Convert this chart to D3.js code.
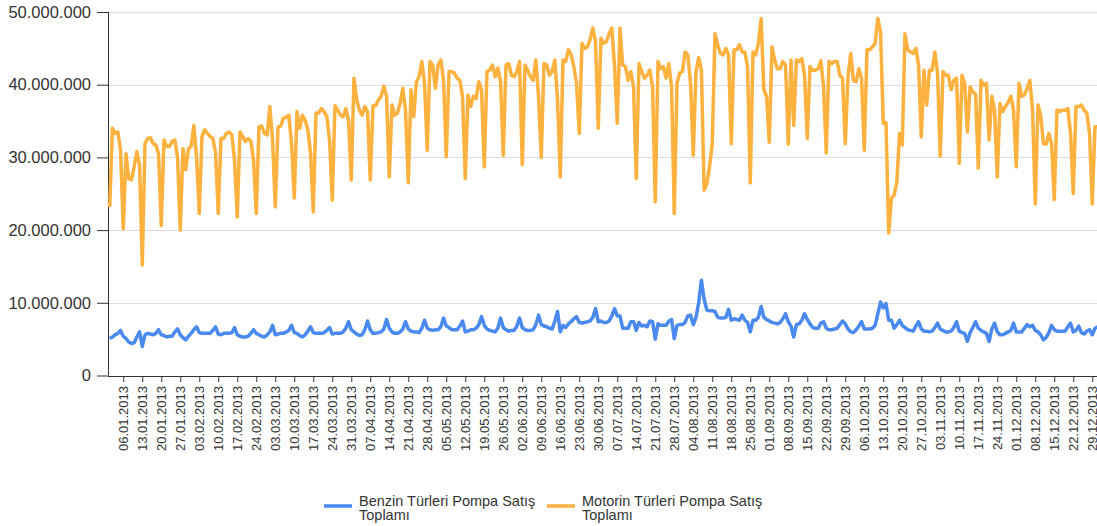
<!DOCTYPE html>
<html lang="tr">
<head>
<meta charset="UTF-8">
<title>Pompa Satış</title>
<script src="https://cdn.jsdelivr.net/npm/d3@7"></script>
<style>
    body { margin: 0; background: #fff; }
    svg { display: block; font-family: "Liberation Sans", Arial, sans-serif; }
</style>
</head>
<body>
<div id="chart"></div>
<script>
// günlük satışlar, milyon (1 Ocak 2013 - 31 Aralık 2013)
const startDate = new Date(2013, 0, 1);
const endDate = new Date(2013, 11, 31);
const unit = 1e6;

const benzin = [
    5.1, 5.3, 5.6, 5.8, 6.2,
    5.4, 5.1, 4.6, 4.4, 4.5, 5.3, 6.0,
    4.0, 5.6, 5.8, 5.7, 5.6, 5.8, 6.3,
    5.6, 5.5, 5.3, 5.4, 5.4, 6.0, 6.4,
    5.6, 5.2, 4.9, 5.4, 5.8, 6.3, 6.7,
    5.9, 5.8, 5.8, 5.8, 5.8, 6.2, 6.7,
    5.7, 5.6, 5.8, 5.8, 5.8, 5.9, 6.6,
    5.6, 5.4, 5.3, 5.3, 5.4, 5.8, 6.3,
    5.8, 5.6, 5.4, 5.3, 5.6, 6.0, 6.9,
    5.6, 5.7, 5.8, 5.8, 6.0, 6.2, 6.9,
    5.9, 5.8, 5.5, 5.3, 5.6, 6.1, 6.7,
    5.9, 5.8, 5.8, 5.8, 5.9, 6.2, 6.6,
    5.7, 5.8, 5.8, 5.8, 6.0, 6.5, 7.4,
    6.3, 6.0, 5.7, 5.5, 5.6, 6.3, 7.5,
    6.3, 5.8, 5.8, 5.9, 6.0, 6.4, 7.7,
    6.5, 6.0, 5.8, 5.8, 6.0, 6.4, 7.4,
    6.4, 6.1, 6.0, 6.0, 5.9, 6.5, 7.6,
    6.5, 6.3, 6.2, 6.3, 6.3, 6.7, 7.9,
    6.8, 6.6, 6.3, 6.3, 6.3, 6.8, 7.5,
    6.0, 6.1, 6.3, 6.3, 6.5, 7.0, 8.1,
    6.9, 6.4, 6.2, 6.1, 6.0, 6.5, 7.9,
    6.6, 6.3, 6.1, 6.2, 6.2, 6.8, 7.9,
    6.6, 6.3, 6.2, 6.2, 6.3, 7.0, 8.3,
    7.0, 6.8, 6.7, 6.5, 6.4, 7.5, 8.8,
    6.0, 6.9, 6.6, 7.1, 7.4, 7.8, 8.1,
    7.3, 7.2, 7.3, 7.4, 7.5, 8.0, 9.2,
    7.4, 7.5, 7.3, 7.3, 7.5, 8.2, 9.2,
    8.2, 8.2, 6.5, 6.5, 6.5, 7.4, 7.4,
    6.2, 7.3, 6.8, 6.9, 6.7, 7.5, 7.4,
    5.0, 7.1, 6.9, 6.9, 6.9, 7.5, 7.7,
    5.1, 6.9, 7.0, 7.0, 7.3, 8.2, 8.3,
    7.0, 8.0, 10.0, 13.1, 10.5, 9.0, 8.9,
    8.9, 8.8, 8.0, 7.9, 7.9, 8.0, 9.1,
    7.6, 7.8, 7.7, 7.6, 8.3, 7.6, 7.3,
    6.0, 7.6, 7.6, 8.0, 9.5, 8.0, 7.7,
    7.5, 7.3, 7.2, 7.1, 7.3, 7.8, 8.5,
    7.4, 6.8, 5.3, 7.0, 7.1, 7.6, 8.5,
    7.7, 7.1, 6.6, 6.5, 6.5, 7.2, 7.4,
    6.5, 6.3, 6.3, 6.4, 6.5, 7.0, 7.5,
    7.1, 6.4, 6.0, 5.9, 6.3, 6.8, 7.4,
    6.4, 6.4, 6.4, 6.5, 6.9, 8.5, 10.1,
    9.3, 9.9, 7.6, 7.6, 6.5, 7.0, 7.6,
    6.9, 6.6, 6.3, 6.2, 6.1, 6.8, 7.4,
    6.4, 6.1, 6.1, 6.0, 6.1, 6.6, 7.2,
    6.4, 6.2, 6.0, 6.0, 6.1, 6.6, 7.4,
    6.1, 5.9, 5.8, 4.7, 5.9, 6.6, 7.4,
    6.5, 6.2, 6.0, 5.8, 4.7, 6.4, 7.2,
    6.0, 5.6, 5.6, 5.8, 6.0, 6.2, 7.2,
    6.0, 6.0, 6.0, 6.5, 7.0, 6.7, 6.9,
    6.2, 6.0, 5.6, 4.9, 5.2, 5.9, 6.9,
    6.3, 6.1, 6.1, 6.1, 6.1, 6.7, 7.2,
    6.0, 6.2, 6.8, 5.9, 5.7, 6.1, 6.3,
    5.6, 6.5, 6.7
];

const motorin = [
    23.2, 34.0, 33.3, 33.5, 31.0,
    20.2, 30.5, 27.1, 26.9, 28.7, 30.8, 29.0,
    15.2, 31.9, 32.6, 32.7, 31.9, 31.7, 30.5,
    20.6, 32.4, 31.5, 31.5, 32.2, 32.4, 30.0,
    20.0, 31.2, 28.3, 31.2, 31.5, 34.4, 30.0,
    22.3, 32.9, 33.8, 33.3, 32.9, 32.6, 30.6,
    22.3, 32.6, 32.6, 33.3, 33.5, 33.1, 29.6,
    21.8, 33.5, 32.9, 32.2, 32.6, 32.2, 29.6,
    22.3, 34.2, 34.3, 33.3, 33.1, 37.0, 32.4,
    23.2, 34.2, 34.3, 35.4, 35.5, 35.8, 31.9,
    24.4, 36.3, 34.0, 35.8, 35.1, 33.8, 30.6,
    22.5, 36.1, 36.1, 36.7, 36.3, 35.6, 32.4,
    24.1, 37.1, 36.5, 35.8, 35.6, 36.7, 35.1,
    26.9, 40.9, 37.9, 36.5, 35.8, 37.0, 36.3,
    26.9, 37.1, 37.1, 37.9, 38.4, 39.8, 38.4,
    27.3, 37.2, 35.8, 36.1, 37.4, 39.5, 36.5,
    26.5, 39.3, 35.6, 40.4, 41.1, 43.2, 40.2,
    31.0, 43.2, 42.7, 39.5, 42.7, 43.4, 40.6,
    30.1, 41.8, 41.8, 41.6, 40.9, 40.6, 38.4,
    27.1, 38.6, 37.0, 38.4, 38.1, 40.4, 39.3,
    28.7, 41.8, 42.0, 42.7, 41.1, 42.3, 40.4,
    30.3, 42.7, 42.9, 41.3, 41.1, 41.8, 43.2,
    29.0, 42.7, 42.0, 41.1, 40.6, 43.4, 38.4,
    30.0, 42.9, 42.7, 41.3, 41.8, 43.4, 37.9,
    27.3, 43.4, 43.2, 44.8, 44.1, 42.5, 40.2,
    33.3, 45.7, 45.0, 45.2, 46.2, 47.8, 45.9,
    34.0, 46.4, 45.7, 45.9, 47.0, 47.8, 42.5,
    34.7, 47.8, 42.7, 42.5, 40.6, 41.8, 39.7,
    27.1, 42.9, 41.8, 40.9, 41.3, 42.0, 39.7,
    23.9, 43.2, 42.2, 42.5, 40.9, 42.9, 39.7,
    22.3, 40.2, 41.6, 41.8, 44.5, 44.1, 40.2,
    30.3, 41.8, 43.7, 42.0, 25.5, 26.4, 28.7,
    31.9, 47.0, 45.5, 44.3, 44.1, 45.0, 44.1,
    31.9, 44.8, 44.8, 45.5, 44.5, 44.5, 42.5,
    26.5, 44.5, 44.1, 45.7, 49.1, 39.3, 38.4,
    32.1, 45.2, 43.4, 42.2, 42.2, 43.2, 42.7,
    31.8, 43.4, 34.4, 43.4, 43.2, 43.6, 41.3,
    32.6, 42.5, 42.0, 42.0, 42.2, 43.3, 39.7,
    30.6, 43.2, 42.9, 43.2, 43.2, 41.3, 40.9,
    31.9, 41.1, 44.3, 40.6, 40.4, 42.2, 40.9,
    31.0, 44.8, 44.8, 45.2, 45.7, 49.1, 47.3,
    34.7, 34.8, 19.6, 24.4, 24.8, 26.6, 33.3,
    31.7, 47.0, 44.8, 44.5, 44.3, 45.0, 42.7,
    32.8, 42.0, 37.2, 42.0, 42.0, 44.5, 41.6,
    30.2, 41.8, 41.3, 41.3, 39.3, 40.6, 40.9,
    29.2, 41.3, 40.2, 33.5, 39.7, 39.0, 38.7,
    28.5, 40.6, 39.9, 40.2, 32.4, 38.4, 36.5,
    27.3, 37.4, 36.3, 37.0, 37.6, 38.4, 36.5,
    28.7, 40.2, 38.4, 38.6, 39.5, 40.6, 36.5,
    23.6, 37.2, 35.8, 31.9, 31.8, 33.3, 31.9,
    24.2, 36.5, 36.3, 36.5, 36.5, 36.7, 33.3,
    25.0, 37.0, 37.0, 37.2, 36.5, 36.1, 33.3,
    23.6, 34.2, 34.2
];

const yTicks = [0, 10e6, 20e6, 30e6, 40e6, 50e6];
const seriesNames = ["Benzin Türleri Pompa Satış Toplamı", "Motorin Türleri Pompa Satış Toplamı"];
const legendLines = [["Benzin Türleri Pompa Satış", "Toplamı"], ["Motorin Türleri Pompa Satış", "Toplamı"]];
const colors = ["#4a8af0", "#fdb13f"];

const width = 1097, height = 526;
const margin = { left: 108, right: 1097, top: 12, bottom: 375.5 };

const svg = d3.select("#chart").append("svg")
    .attr("width", width)
    .attr("height", height);

const days = d3.timeDay.range(startDate, d3.timeDay.offset(endDate, 1));

const x = d3.scaleTime()
    .domain([startDate, endDate])
    .range([109.7, 1097.7]);

const y = d3.scaleLinear()
    .domain([0, 50e6])
    .range([margin.bottom, margin.top]);

const trFormat = d3.formatLocale({ decimal: ",", thousands: ".", grouping: [3], currency: ["", ""] }).format(",");

// grid
svg.append("g")
    .selectAll("line")
    .data(yTicks.filter(d => d > 0))
    .join("line")
    .attr("x1", margin.left)
    .attr("x2", margin.right)
    .attr("y1", d => Math.round(y(d)) + 0.5)
    .attr("y2", d => Math.round(y(d)) + 0.5)
    .attr("stroke", "#dcdcdc")
    .attr("stroke-width", 1);

// y axis
const yAxis = svg.append("g")
    .attr("transform", `translate(${margin.left},0)`)
    .call(d3.axisLeft(y).tickValues(yTicks).tickFormat(trFormat).tickSize(11).tickPadding(6));
yAxis.select(".domain").attr("stroke", "#333").attr("d", `M0.5,${margin.top}V${margin.bottom}`);
yAxis.selectAll(".tick line").attr("stroke", "#333");
yAxis.selectAll(".tick text")
    .attr("font-size", 16.5)
    .attr("fill", "#333")
    .attr("font-family", "'Liberation Sans', Arial, sans-serif");

// x axis
const sundays = d3.timeSunday.range(startDate, d3.timeDay.offset(endDate, 1));
const xAxis = svg.append("g")
    .attr("transform", `translate(0,${Math.round(margin.bottom)})`)
    .call(d3.axisBottom(x).tickValues(sundays).tickFormat(d3.timeFormat("%d.%m.%Y")).tickSize(6));
xAxis.select(".domain").attr("stroke", "#333").attr("d", `M${margin.left},0.5H${margin.right}`);
xAxis.selectAll(".tick line").attr("stroke", "#333");
xAxis.selectAll(".tick text")
    .attr("font-size", 13)
    .attr("fill", "#333")
    .attr("font-family", "'Liberation Sans', Arial, sans-serif")
    .attr("text-anchor", "end")
    .attr("transform", "rotate(-90)")
    .attr("x", -10)
    .attr("y", 0)
    .attr("dy", "0.35em");

// lines
const series = [benzin, motorin];
const line = d3.line()
    .x((d, i) => x(days[i]))
    .y(d => y(d * unit));

svg.append("g")
    .selectAll("path")
    .data(series)
    .join("path")
    .attr("d", d => line(d))
    .attr("fill", "none")
    .attr("stroke", (d, i) => colors[i])
    .attr("stroke-width", 3.5)
    .attr("stroke-linejoin", "round");

// legend
const legendX = [324, 547];
const legend = svg.append("g")
    .selectAll("g")
    .data(seriesNames)
    .join("g")
    .attr("transform", (d, i) => `translate(${legendX[i]},506)`);
legend.append("line")
    .attr("x1", 0)
    .attr("x2", 28)
    .attr("y1", 0)
    .attr("y2", 0)
    .attr("stroke", (d, i) => colors[i])
    .attr("stroke-width", 3.5);
legend.append("text")
    .attr("x", 35)
    .attr("y", 0)
    .attr("font-size", 14.5)
    .attr("fill", "#333")
    .selectAll("tspan")
    .data((d, i) => legendLines[i])
    .join("tspan")
    .attr("x", 35)
    .attr("dy", (d, j) => j === 0 ? 0 : 14)
    .text(d => d);
</script>
</body>
</html>
